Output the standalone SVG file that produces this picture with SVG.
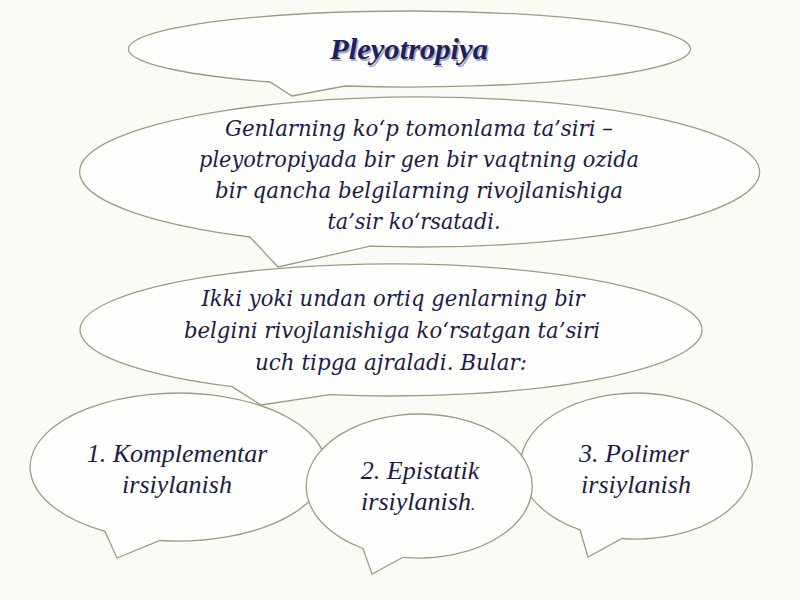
<svg xmlns="http://www.w3.org/2000/svg" width="800" height="600" viewBox="0 0 800 600">
<style>
.bub{fill:#fefefc;stroke:#9c9c84;stroke-width:1.3;stroke-linejoin:miter}
.body{font-family:"DejaVu Serif",serif;font-style:italic;font-size:22.5px;fill:#1b1b4d;text-anchor:middle}
.lab{font-family:"Liberation Serif","Times New Roman",serif;font-style:italic;font-size:26px;fill:#1b1b4d;text-anchor:middle}
.title{font-family:"Liberation Serif","Times New Roman",serif;font-style:italic;font-weight:bold;font-size:29px;text-anchor:middle}
</style>
<rect width="800" height="600" fill="#fbfbf5"/>
<g id="connectors"/>
<g id="title">
<path class="bub" d="M345,86 A281,38 0 1 0 270,82 L292,96 Z"/>
<text class="title" x="410.5" y="60.5" fill="#a8a8bc" textLength="158" lengthAdjust="spacingAndGlyphs">Pleyotropiya</text>
<text class="title" x="409" y="59" fill="#1f2060" textLength="158" lengthAdjust="spacingAndGlyphs">Pleyotropiya</text>
</g>
<g id="definition">
<path class="bub" d="M370,246.2 A340,75 0 1 0 250,237 L278,267 Z"/>
<text class="body" x="419" y="136" textLength="388" lengthAdjust="spacingAndGlyphs">Genlarning ko‘p tomonlama ta’siri –</text>
<text class="body" x="419" y="167" textLength="440" lengthAdjust="spacingAndGlyphs">pleyotropiyada bir gen bir vaqtning ozida</text>
<text class="body" x="419" y="198" textLength="408" lengthAdjust="spacingAndGlyphs">bir qancha belgilarning rivojlanishiga</text>
<text class="body" x="414" y="229" textLength="173" lengthAdjust="spacingAndGlyphs">ta’sir ko‘rsatadi.</text>
</g>
<g id="interaction">
<path class="bub" d="M330,394.7 A311,66 0 1 0 232,386.7 L261,405 Z"/>
<text class="body" x="393" y="306" textLength="383" lengthAdjust="spacingAndGlyphs">Ikki yoki undan ortiq genlarning bir</text>
<text class="body" x="392" y="338" textLength="416" lengthAdjust="spacingAndGlyphs">belgini rivojlanishiga ko‘rsatgan ta’siri</text>
<text class="body" x="391" y="370" textLength="272" lengthAdjust="spacingAndGlyphs">uch tipga ajraladi. Bular:</text>
</g>
<g id="komplementar">
<path class="bub" d="M160,540.5 A148,74 0 1 0 105,531.4 L117,558 Z"/>
<text class="lab" x="177" y="462">1. Komplementar</text>
<text class="lab" x="177" y="493">irsiylanish</text>
</g>
<g id="polimer">
<path class="bub" d="M622,538.5 A116,73 0 1 0 580,529.9 L588,557 Z"/>
<text class="lab" x="634" y="462">3. Polimer</text>
<text class="lab" x="636" y="493">irsiylanish</text>
</g>
<g id="epistatik">
<path class="bub" d="M403,557.3 A113,72 0 1 0 363,548.5 L372,574 Z"/>
<text class="lab" x="420" y="479">2. Epistatik</text>
<text class="lab" x="418" y="510">irsiylanish<tspan font-size="16">.</tspan></text>
</g>
</svg>
